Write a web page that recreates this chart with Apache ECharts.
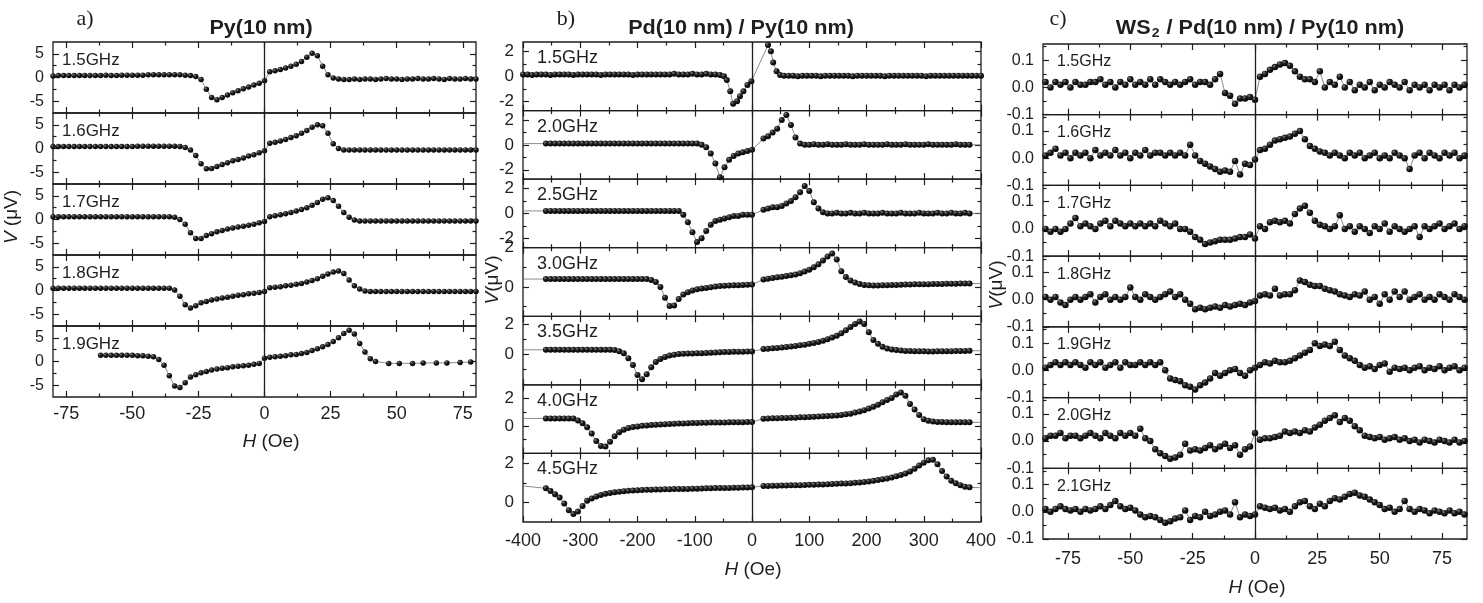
<!DOCTYPE html>
<html>
<head>
<meta charset="utf-8">
<title>Spin pumping voltage V(H) for Py, Pd/Py and WS2/Pd/Py</title>
<script src="https://cdn.jsdelivr.net/npm/echarts@6.0.0/dist/echarts.min.js"></script>
<style>
  html, body { margin: 0; padding: 0; background: #fff; }
  #chart { width: 1483px; height: 603px; }
</style>
</head>
<body>
<div id="chart"></div>
<script>
var FONT = '"Liberation Sans", Arial, Helvetica, sans-serif';
var INK = '#1e1e1e';
var problems = [];

/* ---------- panel a : Py(10 nm) ---------- */
var freqA = ['1.5GHz', '1.6GHz', '1.7GHz', '1.8GHz', '1.9GHz'];
var fieldA = sweep(-80, 80, 2);
var fieldA19 = sweep(-62, 42, 2).concat([47, 51, 56, 60, 65, 69, 74, 78]);

var vA15 = [
  0.3, 0.4, 0.4, 0.4, 0.4, 0.4, 0.4, 0.4, 0.4, 0.4,
  0.5, 0.4, 0.4, 0.5, 0.5, 0.5, 0.5, 0.5, 0.6, 0.6,
  0.6, 0.6, 0.6, 0.6, 0.6, 0.5, 0.4, 0.2, -0.4, -2.5,
  -4.2, -4.7, -4.2, -3.7, -3.2, -2.8, -2.4, -2.0, -1.6, -1.2,
  -0.7, 1.2, 1.4, 1.7, 2.0, 2.4, 2.8, 3.4, 4.3, 5.1,
  4.6, 2.4, 0.6, -0.1, -0.3, -0.4, -0.4, -0.3, -0.4, -0.3,
  -0.3, -0.4, -0.3, -0.2, -0.3, -0.3, -0.4, -0.3, -0.3, -0.2,
  -0.3, -0.3, -0.2, -0.3, -0.4, -0.2, -0.3, -0.3, -0.2, -0.3,
  -0.3
];
var vA16 = [
  0.4, 0.4, 0.4, 0.4, 0.4, 0.4, 0.4, 0.4, 0.4, 0.4,
  0.4, 0.4, 0.4, 0.4, 0.4, 0.4, 0.5, 0.5, 0.5, 0.5,
  0.5, 0.5, 0.5, 0.5, 0.4, 0.2, -0.3, -1.5, -3.2, -4.3,
  -4.2, -3.8, -3.4, -3.0, -2.6, -2.3, -2.0, -1.6, -1.3, -0.9,
  -0.5, 1.1, 1.3, 1.6, 1.9, 2.3, 2.7, 3.2, 3.8, 4.5,
  5.0, 4.8, 3.2, 1.0, 0.0, -0.3, -0.3, -0.3, -0.3, -0.3,
  -0.3, -0.3, -0.3, -0.3, -0.3, -0.3, -0.3, -0.3, -0.3, -0.3,
  -0.3, -0.3, -0.3, -0.3, -0.3, -0.3, -0.3, -0.3, -0.3, -0.3,
  -0.3
];
var vA17 = [
  0.6, 0.6, 0.6, 0.6, 0.6, 0.6, 0.6, 0.6, 0.6, 0.6,
  0.6, 0.6, 0.6, 0.6, 0.6, 0.6, 0.6, 0.6, 0.6, 0.6,
  0.6, 0.6, 0.6, 0.5, 0.0, -1.0, -2.8, -4.0, -4.0, -3.4,
  -3.0, -2.6, -2.3, -2.0, -1.8, -1.6, -1.4, -1.2, -1.0, -0.7,
  -0.4, 0.6, 0.8, 1.0, 1.2, 1.5, 1.8, 2.1, 2.5, 3.0,
  3.6, 4.3, 4.6, 4.0, 2.8, 1.5, 0.5, -0.1, -0.3, -0.3,
  -0.3, -0.3, -0.3, -0.3, -0.3, -0.3, -0.3, -0.3, -0.3, -0.3,
  -0.3, -0.3, -0.3, -0.3, -0.3, -0.3, -0.3, -0.3, -0.3, -0.3,
  -0.3
];
var vA18 = [
  0.5, 0.5, 0.5, 0.5, 0.5, 0.5, 0.5, 0.5, 0.5, 0.5,
  0.5, 0.5, 0.5, 0.5, 0.5, 0.5, 0.5, 0.5, 0.5, 0.5,
  0.5, 0.5, 0.5, 0.1, -1.2, -3.0, -3.7, -3.2, -2.6, -2.3,
  -2.0, -1.8, -1.6, -1.4, -1.2, -1.0, -0.9, -0.7, -0.6, -0.4,
  -0.2, 0.6, 0.7, 0.8, 1.0, 1.1, 1.3, 1.5, 1.8, 2.1,
  2.5, 3.0, 3.5, 3.9, 4.1, 3.6, 2.2, 1.0, 0.3, -0.1,
  -0.2, -0.2, -0.2, -0.2, -0.2, -0.2, -0.2, -0.2, -0.2, -0.2,
  -0.2, -0.2, -0.2, -0.2, -0.2, -0.2, -0.2, -0.2, -0.2, -0.2,
  -0.2
];
var vA19 = [
  1.3, 1.3, 1.3, 1.3, 1.3, 1.3, 1.3, 1.2, 1.2, 1.1,
  1.0, 0.4, -0.8, -3.0, -5.2, -5.5, -4.5, -3.3, -2.8, -2.4,
  -2.1, -1.8, -1.6, -1.4, -1.3, -1.1, -1.0, -0.9, -0.8, -0.6,
  -0.4, 0.7, 0.9, 1.0, 1.1, 1.2, 1.4, 1.5, 1.7, 1.9,
  2.3, 2.7, 3.1, 3.6, 4.2, 5.0, 5.9, 6.6, 5.8, 3.8,
  2.0, 0.6, 0.0,
  -0.4, -0.4, -0.4, -0.3, -0.3, -0.3, -0.2, -0.1
];

var xTicksA = [-75, -50, -25, 0, 25, 50, 75];
var xMinorA = [-62.5, -37.5, -12.5, 12.5, 37.5, 62.5];
var yTicksA = [-5, 0, 5];
var yMinorA = [-2.5, 2.5];

/* ---------- panel b : Pd(10 nm) / Py(10 nm) ---------- */
var freqB = ['1.5GHz', '2.0GHz', '2.5GHz', '3.0GHz', '3.5GHz', '4.0GHz', '4.5GHz'];
var fieldB15 = sweep(-400, -56, 8)
  .concat([-49, -44, -38, -33, -26, -21, -15, -8, -1, 28, 33, 37, 43, 49])
  .concat(sweep(56, 400, 8));
var fieldB = sweep(-360, 0, 8).concat(sweep(20, 380, 8));

var vB15 = [
  0.15, 0.15, 0.1, 0.15, 0.15, 0.15, 0.1, 0.15, 0.15, 0.15,
  0.15, 0.1, 0.15, 0.15, 0.15, 0.15, 0.15, 0.1, 0.15, 0.15,
  0.15, 0.15, 0.15, 0.15, 0.1, 0.15, 0.15, 0.15, 0.15, 0.15,
  0.15, 0.15, 0.15, 0.2, 0.15, 0.15, 0.15, 0.2, 0.15, 0.15,
  0.2, 0.15, 0.15, 0.1,
  0.0, -0.3, -1.2, -2.2, -2.0, -1.6, -1.2, -0.7, -0.4, 2.5, 2.0, 1.1, 0.4, 0.1,
  0.05, 0.05, 0.05, 0.0, 0.05, 0.05, 0.05, 0.05, 0.0, 0.05,
  0.05, 0.05, 0.05, 0.05, 0.05, 0.0, 0.05, 0.05, 0.05, 0.05,
  0.05, 0.05, 0.0, 0.05, 0.05, 0.05, 0.05, 0.05, 0.05, 0.05,
  0.05, 0.0, 0.05, 0.05, 0.05, 0.05, 0.05, 0.05, 0.05, 0.05,
  0.05, 0.05, 0.05, 0.05
];
var vB20 = [
  0.1, 0.1, 0.1, 0.1, 0.1, 0.1, 0.1, 0.1, 0.1, 0.1,
  0.1, 0.1, 0.1, 0.1, 0.1, 0.1, 0.1, 0.1, 0.1, 0.1,
  0.1, 0.1, 0.1, 0.1, 0.1, 0.1, 0.1, 0.1, 0.1, 0.1,
  0.1, 0.1, 0.1, 0.1, 0.0, -0.2, -0.7, -1.5, -2.6, -1.8,
  -1.2, -0.9, -0.7, -0.6, -0.5, -0.4,
  0.5, 0.7, 1.0, 1.3, 2.0, 2.4, 1.6, 0.6, 0.1, 0.0,
  0.0, 0.05, 0.0, 0.0, 0.05, 0.0, 0.0, 0.0, 0.05, 0.0,
  0.0, 0.0, 0.05, 0.0, 0.0, 0.0, 0.0, 0.05, 0.0, 0.0,
  0.0, 0.05, 0.0, 0.0, 0.0, 0.0, 0.05, 0.0, 0.0, 0.0,
  0.0, 0.0, 0.05, 0.0, 0.0, 0.0
];
var vB25 = [
  0.2, 0.2, 0.2, 0.2, 0.2, 0.2, 0.2, 0.2, 0.2, 0.2,
  0.2, 0.2, 0.2, 0.2, 0.2, 0.2, 0.2, 0.2, 0.2, 0.2,
  0.2, 0.2, 0.2, 0.2, 0.2, 0.2, 0.2, 0.2, 0.2, 0.2,
  -0.1, -0.7, -1.5, -2.3, -2.0, -1.4, -0.9, -0.6, -0.5, -0.4,
  -0.3, -0.2, -0.2, -0.1, -0.1, -0.1,
  0.3, 0.4, 0.5, 0.5, 0.6, 0.8, 1.0, 1.3, 1.7, 2.2,
  1.8, 0.9, 0.4, 0.1, 0.0, 0.0, 0.05, 0.0, 0.0, 0.05,
  0.0, 0.0, 0.05, 0.0, 0.0, 0.0, 0.05, 0.0, 0.0, 0.0,
  0.05, 0.0, 0.0, 0.0, 0.05, 0.0, 0.0, 0.0, 0.05, 0.0,
  0.0, 0.05, 0.0, 0.0, 0.05, 0.0
];
var vB30 = [
  0.4, 0.4, 0.4, 0.4, 0.4, 0.4, 0.4, 0.4, 0.4, 0.4,
  0.4, 0.4, 0.4, 0.4, 0.4, 0.4, 0.4, 0.4, 0.4, 0.4,
  0.4, 0.4, 0.4, 0.35, 0.25, 0.0, -0.55, -0.98, -0.95, -0.62,
  -0.39, -0.27, -0.18, -0.12, -0.08, -0.05, -0.02, 0.02, 0.04, 0.06,
  0.07, 0.08, 0.09, 0.1, 0.11, 0.12,
  0.38, 0.42, 0.45, 0.49, 0.52, 0.55, 0.59, 0.63, 0.7, 0.78,
  0.88, 1.0, 1.15, 1.35, 1.55, 1.7, 1.4, 0.8, 0.5, 0.33,
  0.22, 0.15, 0.1, 0.08, 0.07, 0.07, 0.08, 0.09, 0.1, 0.1,
  0.11, 0.12, 0.12, 0.13, 0.13, 0.14, 0.14, 0.15, 0.15, 0.15,
  0.16, 0.16, 0.16, 0.17, 0.17, 0.17
];
var vB35 = [
  0.3, 0.3, 0.3, 0.3, 0.3, 0.3, 0.3, 0.3, 0.3, 0.3,
  0.3, 0.3, 0.3, 0.3, 0.3, 0.28, 0.2, 0.08, -0.25, -0.7,
  -1.35, -1.63, -1.3, -0.85, -0.5, -0.3, -0.17, -0.08, -0.02, 0.02,
  0.04, 0.05, 0.06, 0.07, 0.08, 0.09, 0.11, 0.12, 0.14, 0.15,
  0.16, 0.17, 0.18, 0.18, 0.19, 0.19,
  0.35, 0.37, 0.4, 0.42, 0.45, 0.48, 0.52, 0.55, 0.6, 0.64,
  0.7, 0.75, 0.82, 0.9, 1.0, 1.1, 1.22, 1.38, 1.58, 1.8,
  2.0, 2.15, 2.0, 1.45, 0.95, 0.7, 0.5, 0.38, 0.32, 0.28,
  0.25, 0.23, 0.22, 0.21, 0.2, 0.2, 0.19, 0.19, 0.2, 0.2,
  0.21, 0.21, 0.22, 0.22, 0.23, 0.24
];
var vB40 = [
  0.55, 0.55, 0.55, 0.55, 0.55, 0.55, 0.55, 0.4, 0.2, -0.1,
  -0.55, -1.1, -1.45, -1.5, -1.15, -0.75, -0.45, -0.27, -0.15, -0.08,
  -0.03, 0.01, 0.04, 0.07, 0.09, 0.11, 0.13, 0.15, 0.17, 0.18,
  0.19, 0.2, 0.21, 0.22, 0.23, 0.24, 0.25, 0.25, 0.26, 0.26,
  0.27, 0.27, 0.28, 0.28, 0.29, 0.29,
  0.53, 0.55, 0.56, 0.57, 0.58, 0.59, 0.6, 0.61, 0.63, 0.64,
  0.65, 0.67, 0.69, 0.71, 0.73, 0.75, 0.77, 0.8, 0.85, 0.9,
  0.98, 1.05, 1.15, 1.27, 1.4, 1.55, 1.73, 1.9, 2.05, 2.3,
  2.45, 2.2, 1.6, 1.2, 0.8, 0.5, 0.38, 0.32, 0.3, 0.29,
  0.28, 0.28, 0.28, 0.27, 0.27, 0.27
];
var vB45 = [
  0.72, 0.58, 0.42, 0.25, -0.05, -0.4, -0.59, -0.47, -0.18, 0.08,
  0.2, 0.3, 0.38, 0.44, 0.48, 0.52, 0.55, 0.57, 0.59, 0.61,
  0.62, 0.63, 0.64, 0.65, 0.66, 0.66, 0.67, 0.67, 0.68, 0.68,
  0.69, 0.69, 0.7, 0.7, 0.71, 0.72, 0.72, 0.73, 0.73, 0.74,
  0.74, 0.75, 0.75, 0.76, 0.76, 0.77,
  0.84, 0.84, 0.85, 0.85, 0.86, 0.86, 0.87, 0.87, 0.88, 0.89,
  0.9, 0.9, 0.91, 0.92, 0.93, 0.94, 0.95, 0.96, 0.97, 0.98,
  1.0, 1.02, 1.04, 1.07, 1.1, 1.14, 1.18, 1.22, 1.27, 1.33,
  1.4, 1.47, 1.58, 1.72, 1.88, 2.03, 2.15, 2.18, 1.95, 1.6,
  1.32, 1.1, 0.98, 0.88, 0.8, 0.77
];
// thin guide line running from the frame edge to the first / last point
var tailsB = [null, [0.1, 0.0], [0.2, 0.0], [0.4, 0.17], [0.3, 0.24], [0.55, 0.27], [0.84, 0.75]];

var xTicksB = [-400, -300, -200, -100, 0, 100, 200, 300, 400];
var xMinorB = [-350, -250, -150, -50, 50, 150, 250, 350];

/* ---------- panel c : WS2 / Pd(10 nm) / Py(10 nm) ---------- */
var freqC = ['1.5GHz', '1.6GHz', '1.7GHz', '1.8GHz', '1.9GHz', '2.0GHz', '2.1GHz'];
var fieldC = sweep(-84, 84, 2);

var vC15 = [
  0.02, 0.00, 0.02, 0.01, 0.02, 0.00, 0.02, 0.01, 0.01, 0.02,
  0.02, 0.03, 0.01, 0.02, 0.00, 0.02, 0.01, 0.03, 0.01, 0.02,
  0.01, 0.03, 0.01, 0.03, 0.02, 0.01, 0.02, 0.01, 0.02, 0.03,
  0.01, 0.02, 0.02, 0.01, 0.03, 0.05, -0.02, -0.03, -0.06, -0.04,
  -0.04, -0.035, -0.045, 0.04, 0.05, 0.065, 0.075, 0.085, 0.09, 0.08,
  0.06, 0.04, 0.03, 0.03, 0.02, 0.06, 0.00, 0.02, 0.01, 0.04,
  0.00, 0.02, -0.01, 0.01, 0.00, 0.02, -0.01, 0.01, 0.00, 0.02,
  0.01, 0.00, 0.02, -0.01, 0.01, 0.00, 0.01, -0.01, 0.01, 0.00,
  0.01, -0.01, 0.01, 0.00, 0.01
];
var vC16 = [
  0.01, 0.02, 0.035, 0.01, 0.02, 0.00, 0.02, 0.01, 0.02, 0.00,
  0.03, 0.01, 0.02, 0.01, 0.03, 0.01, 0.02, 0.00, 0.02, 0.01,
  0.03, 0.01, 0.02, 0.02, 0.01, 0.02, 0.01, 0.02, 0.01, 0.05,
  0.01, -0.01, -0.02, -0.03, -0.04, -0.05, -0.045, -0.05, -0.01, -0.06,
  -0.02, -0.025, -0.005, 0.03, 0.035, 0.05, 0.065, 0.07, 0.075, 0.08,
  0.09, 0.1, 0.07, 0.045, 0.035, 0.025, 0.02, 0.01, 0.02, 0.01,
  0.00, 0.02, 0.01, 0.02, 0.00, 0.01, 0.02, 0.00, 0.01, 0.00,
  0.02, 0.01, 0.00, -0.04, 0.01, 0.02, 0.00, 0.02, 0.01, 0.00,
  0.02, 0.01, 0.02, 0.00, 0.01
];
var vC17 = [
  0.00, -0.01, 0.00, -0.01, 0.00, 0.02, 0.04, 0.01, 0.02, 0.01,
  0.00, 0.02, 0.03, 0.01, 0.03, 0.02, 0.01, 0.02, 0.01, 0.02,
  0.01, 0.02, 0.01, 0.03, 0.02, 0.01, 0.02, 0.00, 0.00, -0.01,
  -0.03, -0.04, -0.055, -0.05, -0.045, -0.04, -0.04, -0.04, -0.035, -0.03,
  -0.03, -0.02, -0.035, 0.01, 0.00, 0.025, 0.03, 0.025, 0.03, 0.02,
  0.055, 0.075, 0.085, 0.06, 0.03, 0.015, 0.01, 0.00, 0.01, 0.05,
  0.00, 0.01, -0.01, 0.01, 0.00, -0.015, 0.01, 0.00, 0.02, -0.01,
  0.01, 0.00, -0.01, 0.00, 0.01, -0.03, 0.01, 0.00, 0.01, 0.02,
  0.00, 0.01, 0.02, 0.00, 0.01
];
var vC18 = [
  0.01, 0.00, 0.01, -0.01, -0.02, 0.00, 0.01, 0.00, 0.01, 0.02,
  -0.01, 0.01, 0.02, 0.00, 0.01, 0.00, 0.01, 0.045, 0.01, 0.00,
  0.02, 0.01, 0.00, 0.01, 0.02, 0.03, 0.01, 0.02, 0.00, -0.015,
  -0.035, -0.03, -0.035, -0.03, -0.025, -0.03, -0.02, -0.025, -0.02, -0.015,
  -0.02, -0.01, -0.005, 0.015, 0.02, 0.015, 0.04, 0.015, 0.02, 0.02,
  0.035, 0.07, 0.065, 0.055, 0.05, 0.05, 0.04, 0.035, 0.03, 0.02,
  0.015, 0.01, 0.02, 0.015, 0.03, 0.00, 0.01, -0.015, 0.02, 0.00,
  0.03, 0.01, 0.03, 0.00, 0.01, 0.02, 0.00, 0.01, 0.00, 0.02,
  0.01, 0.00, 0.02, 0.01, 0.00
];
var vC19 = [
  0.01, 0.02, 0.03, 0.02, 0.03, 0.02, 0.03, 0.02, 0.01, 0.03,
  0.02, 0.03, 0.01, 0.02, 0.03, 0.01, 0.03, 0.02, 0.02, 0.03,
  0.02, 0.03, 0.02, 0.03, 0.00, -0.03, -0.035, -0.04, -0.055, -0.06,
  -0.07, -0.055, -0.045, -0.03, -0.01, -0.02, -0.01, 0.00, 0.005, -0.01,
  -0.02, 0.00, 0.01, 0.02, 0.03, 0.025, 0.035, 0.03, 0.03, 0.035,
  0.045, 0.055, 0.065, 0.075, 0.1, 0.09, 0.095, 0.09, 0.105, 0.075,
  0.055, 0.045, 0.035, 0.02, 0.01, 0.015, 0.005, 0.02, 0.025, -0.005,
  0.01, 0.005, 0.01, 0.00, 0.01, 0.015, 0.00, 0.01, 0.005, 0.015,
  0.00, 0.01, 0.015, 0.00, 0.01
];
var vC20 = [
  0.01, 0.02, 0.02, 0.03, 0.01, 0.02, 0.02, 0.01, 0.02, 0.03,
  0.02, 0.01, 0.03, 0.02, 0.01, 0.03, 0.02, 0.03, 0.02, 0.045,
  0.01, 0.00, -0.03, -0.045, -0.055, -0.065, -0.06, -0.05, -0.01, -0.035,
  -0.03, -0.035, -0.025, -0.015, -0.03, -0.02, -0.01, -0.025, -0.015, -0.05,
  -0.03, -0.02, 0.03, 0.005, 0.01, 0.01, 0.015, 0.02, 0.035, 0.03,
  0.035, 0.03, 0.04, 0.035, 0.05, 0.06, 0.075, 0.085, 0.095, 0.07,
  0.085, 0.075, 0.055, 0.04, 0.02, 0.015, 0.01, 0.015, 0.005, 0.01,
  0.015, 0.005, 0.01, 0.00, 0.005, -0.005, 0.005, 0.00, -0.005, 0.005,
  0.00, -0.005, 0.005, -0.005, 0.00
];
var vC21 = [
  0.01, 0.00, 0.01, 0.02, 0.01, 0.005, 0.01, 0.00, 0.01, 0.005,
  0.01, 0.02, 0.01, 0.025, 0.04, 0.02, 0.01, 0.015, 0.005, -0.01,
  -0.02, -0.015, -0.02, -0.03, -0.04, -0.035, -0.025, -0.02, 0.005, -0.03,
  -0.015, -0.02, 0.00, -0.015, -0.01, 0.00, 0.005, -0.01, 0.035, -0.02,
  -0.01, -0.015, -0.01, 0.02, 0.015, 0.01, 0.015, 0.005, 0.01, 0.00,
  0.02, 0.035, 0.04, 0.02, 0.01, 0.03, 0.02, 0.04, 0.05, 0.045,
  0.055, 0.065, 0.07, 0.06, 0.055, 0.045, 0.035, 0.025, 0.01, 0.015,
  0.00, 0.01, 0.04, 0.01, 0.00, 0.01, 0.005, -0.005, 0.005, 0.00,
  -0.005, 0.005, -0.005, 0.00, -0.01
];

var xTicksC = [-75, -50, -25, 0, 25, 50, 75];
var xMinorC = [-62.5, -37.5, -12.5, 12.5, 37.5, 62.5];
var yTicksC = [-0.1, 0, 0.1];
var yMinorC = [-0.05, 0.05, 0.15];

/* ---------- helpers ---------- */
function sweep(from, to, step) {
  var out = [];
  for (var i = 0; from + i * step <= to + 1e-9; i++) out.push(from + i * step);
  return out;
}

function pairs(hs, vs, name) {
  if (hs.length !== vs.length) problems.push(name + ': ' + hs.length + ' fields vs ' + vs.length + ' values');
  var out = [];
  for (var i = 0; i < Math.min(hs.length, vs.length); i++) out.push([hs[i], vs[i]]);
  return out;
}

function intFmt(v) { return String(v); }
function oneDec(v) { return v.toFixed(1); }

function axis(gi, pos, range, ticks, len, lab) {
  return {
    type: 'value', gridIndex: gi, position: pos,
    min: range[0], max: range[1],
    axisLine: { show: false, onZero: false },
    splitLine: { show: false },
    axisPointer: { show: false },
    axisTick: { show: true, inside: true, length: len, customValues: ticks,
      lineStyle: { color: INK, width: 1.2 } },
    axisLabel: lab ? {
      show: true, customValues: lab.values, fontFamily: FONT, fontSize: lab.size,
      color: INK, margin: lab.margin, formatter: lab.fmt, hideOverlap: false
    } : { show: false, customValues: ticks }
  };
}

/* ---------- panel layout ---------- */
var panels = [
  { left: 53, width: 423, top: 42, bottom: 397, x: [-80, 80],
    xTicks: xTicksA, xMinor: xMinorA, xMargin: 8, ySize: 16, yFmt: intFmt,
    tagX: 62, tagDy: 18, tagSize: 17, dot: 5.5,
    rows: [
      { f: freqA[0], h: fieldA, v: vA15, y: [-7.5, 7.5], yt: yTicksA, ym: yMinorA },
      { f: freqA[1], h: fieldA, v: vA16, y: [-7.5, 7.5], yt: yTicksA, ym: yMinorA },
      { f: freqA[2], h: fieldA, v: vA17, y: [-7.5, 7.5], yt: yTicksA, ym: yMinorA },
      { f: freqA[3], h: fieldA, v: vA18, y: [-7.5, 7.5], yt: yTicksA, ym: yMinorA },
      { f: freqA[4], h: fieldA19, v: vA19, y: [-7.5, 7.5], yt: yTicksA, ym: yMinorA }
    ] },
  { left: 523, width: 458, top: 42, bottom: 522, x: [-400, 400],
    xTicks: xTicksB, xMinor: xMinorB, xMargin: 10, ySize: 17, yFmt: intFmt,
    tagX: 537, tagDy: 16, tagSize: 18, dot: 6,
    rows: [
      { f: freqB[0], h: fieldB15, v: vB15, y: [-2.75, 2.75], yt: [-2, 0, 2], ym: [-1, 1], tail: tailsB[0] },
      { f: freqB[1], h: fieldB, v: vB20, y: [-2.75, 2.75], yt: [-2, 0, 2], ym: [-1, 1], tail: tailsB[1] },
      { f: freqB[2], h: fieldB, v: vB25, y: [-2.75, 2.75], yt: [-2, 0, 2], ym: [-1, 1], tail: tailsB[2] },
      { f: freqB[3], h: fieldB, v: vB30, y: [-1.5, 2], yt: [0, 2], ym: [-1, 1], tail: tailsB[3] },
      { f: freqB[4], h: fieldB, v: vB35, y: [-2, 2.5], yt: [0, 2], ym: [-1, 1], tail: tailsB[4] },
      { f: freqB[5], h: fieldB, v: vB40, y: [-2, 3], yt: [0, 2], ym: [-1, 1], tail: tailsB[5] },
      { f: freqB[6], h: fieldB, v: vB45, y: [-1, 2.5], yt: [0, 2], ym: [1], tail: tailsB[6] }
    ] },
  { left: 1043, width: 424, top: 44, bottom: 539, x: [-85, 85],
    xTicks: xTicksC, xMinor: xMinorC, xMargin: 11, ySize: 16, yFmt: oneDec,
    tagX: 1057, tagDy: 18, tagSize: 16, dot: 6.5,
    rows: [
      { f: freqC[0], h: fieldC, v: vC15, y: [-0.1, 0.16], yt: yTicksC, ym: yMinorC },
      { f: freqC[1], h: fieldC, v: vC16, y: [-0.1, 0.16], yt: yTicksC, ym: yMinorC },
      { f: freqC[2], h: fieldC, v: vC17, y: [-0.1, 0.16], yt: yTicksC, ym: yMinorC },
      { f: freqC[3], h: fieldC, v: vC18, y: [-0.1, 0.16], yt: yTicksC, ym: yMinorC },
      { f: freqC[4], h: fieldC, v: vC19, y: [-0.1, 0.16], yt: yTicksC, ym: yMinorC },
      { f: freqC[5], h: fieldC, v: vC20, y: [-0.1, 0.16], yt: yTicksC, ym: yMinorC },
      { f: freqC[6], h: fieldC, v: vC21, y: [-0.1, 0.16], yt: yTicksC, ym: yMinorC }
    ] }
];

var SPHERE = new echarts.graphic.RadialGradient(0.35, 0.32, 0.75, [
  { offset: 0, color: '#808080' },
  { offset: 0.4, color: '#1c1c1c' },
  { offset: 1, color: '#000000' }
]);

var option = {
  animation: false,
  backgroundColor: '#ffffff',
  textStyle: { fontFamily: FONT, color: INK },
  grid: [], xAxis: [], yAxis: [], series: [], graphic: []
};

panels.forEach(function (p, pi) {
  var n = p.rows.length;
  var rowH = (p.bottom - p.top) / n;
  p.rows.forEach(function (row, k) {
    var gi = option.grid.length;
    var top = p.top + rowH * k;
    var last = (k === n - 1);
    option.grid.push({
      left: p.left, top: top, width: p.width, height: rowH,
      show: true, borderColor: INK, borderWidth: 1.3, backgroundColor: 'transparent',
      containLabel: false, outerBoundsMode: 'none'
    });

    var xi = option.xAxis.length;
    option.xAxis.push(
      axis(gi, 'bottom', p.x, p.xTicks, 6,
        last ? { values: p.xTicks, size: 18, margin: p.xMargin, fmt: intFmt } : null),
      axis(gi, 'bottom', p.x, p.xMinor, 3.5, null),
      axis(gi, 'top', p.x, p.xTicks, 6, null),
      axis(gi, 'top', p.x, p.xMinor, 3.5, null)
    );
    var yi = option.yAxis.length;
    option.yAxis.push(
      axis(gi, 'left', row.y, row.yt, 6, { values: row.yt, size: p.ySize, margin: 9, fmt: p.yFmt }),
      axis(gi, 'left', row.y, row.ym, 3.5, null),
      axis(gi, 'right', row.y, row.yt, 6, null),
      axis(gi, 'right', row.y, row.ym, 3.5, null)
    );

    var data = pairs(row.h, row.v, 'panel ' + 'abc'[pi] + ' ' + row.f);
    if (row.tail) {
      data.unshift({ value: [p.x[0], row.tail[0]], symbol: 'none' });
      data.push({ value: [p.x[1], row.tail[1]], symbol: 'none' });
    }

    option.series.push({
      type: 'line',
      name: 'abc'[pi] + ' ' + row.f,
      xAxisIndex: xi, yAxisIndex: yi,
      data: data,
      symbol: 'circle', symbolSize: p.dot, showSymbol: true,
      lineStyle: { color: '#6e6e6e', width: 0.8 },
      itemStyle: { color: SPHERE },
      emphasis: { disabled: true },
      silent: true,
      markLine: {
        silent: true, animation: false, symbol: ['none', 'none'],
        label: { show: false },
        lineStyle: { color: INK, width: 1.3, type: 'solid' },
        data: [{ xAxis: 0 }]
      }
    });

    option.graphic.push({
      type: 'text', x: p.tagX, y: top + p.tagDy, z: 20,
      style: { text: row.f, fill: INK, font: p.tagSize + 'px ' + FONT,
        align: 'left', textAlign: 'left', verticalAlign: 'middle', textVerticalAlign: 'middle' }
    });
  });
});

/* ---------- titles, panel letters, axis names ---------- */
function label(x, y, txt, font, extra) {
  var el = { type: 'text', x: x, y: y, z: 20,
    style: { text: txt, fill: INK, font: font, align: 'center', textAlign: 'center',
      verticalAlign: 'middle', textVerticalAlign: 'middle' } };
  if (extra) for (var key in extra) el[key] = extra[key];
  return el;
}
var serif = '22px "Liberation Serif", "Times New Roman", serif';
var bold = 'bold 20px ' + FONT;
var richAxis = {
  it: { fontStyle: 'italic', fontSize: 19, fontFamily: FONT, fill: INK },
  n: { fontSize: 19, fontFamily: FONT, fill: INK }
};

option.graphic.push(
  label(85, 19, 'a)', serif),
  label(566, 19, 'b)', serif),
  label(1058, 19, 'c)', serif),
  label(261, 28, 'Py(10 nm)', bold, { scaleX: 1.08 }),
  label(741, 28, 'Pd(10 nm) / Py(10 nm)', bold, { scaleX: 1.08 }),
  { type: 'text', x: 1260, y: 28, z: 20, scaleX: 1.08,
    style: { text: '{b|WS}{s|2}{b| / Pd(10 nm) / Py(10 nm)}', fill: INK,
      align: 'center', textAlign: 'center', verticalAlign: 'middle', textVerticalAlign: 'middle',
      rich: {
        b: { fontWeight: 'bold', fontSize: 20, fontFamily: FONT, fill: INK, lineHeight: 24 },
        s: { fontWeight: 'bold', fontSize: 13, fontFamily: FONT, fill: INK, lineHeight: 24,
          verticalAlign: 'bottom', padding: [9, 1, 0, 1] }
      } } },
  { type: 'text', x: 271, y: 442, z: 20,
    style: { text: '{it|H}{n| (Oe)}', rich: richAxis, align: 'center', textAlign: 'center',
      verticalAlign: 'middle', textVerticalAlign: 'middle' } },
  { type: 'text', x: 753, y: 570, z: 20,
    style: { text: '{it|H}{n| (Oe)}', rich: richAxis, align: 'center', textAlign: 'center',
      verticalAlign: 'middle', textVerticalAlign: 'middle' } },
  { type: 'text', x: 1257, y: 588, z: 20,
    style: { text: '{it|H}{n| (Oe)}', rich: richAxis, align: 'center', textAlign: 'center',
      verticalAlign: 'middle', textVerticalAlign: 'middle' } },
  { type: 'text', x: 12, y: 217, z: 20, rotation: Math.PI / 2,
    style: { text: '{it|V}{n| (\u03bcV)}', rich: richAxis, align: 'center', textAlign: 'center',
      verticalAlign: 'middle', textVerticalAlign: 'middle' } },
  { type: 'text', x: 493, y: 280, z: 20, rotation: Math.PI / 2,
    style: { text: '{it|V}{n|(\u03bcV)}', rich: richAxis, align: 'center', textAlign: 'center',
      verticalAlign: 'middle', textVerticalAlign: 'middle' } },
  { type: 'text', x: 997, y: 285, z: 20, rotation: Math.PI / 2,
    style: { text: '{it|V}{n|(\u03bcV)}', rich: richAxis, align: 'center', textAlign: 'center',
      verticalAlign: 'middle', textVerticalAlign: 'middle' } }
);

var chart = echarts.init(document.getElementById('chart'), null, { renderer: 'canvas' });
chart.setOption(option);

window.addEventListener('resize', function () { chart.resize(); });

if (problems.length) {
  throw new Error('data length mismatch: ' + problems.join('; '));
}
</script>
</body>
</html>
